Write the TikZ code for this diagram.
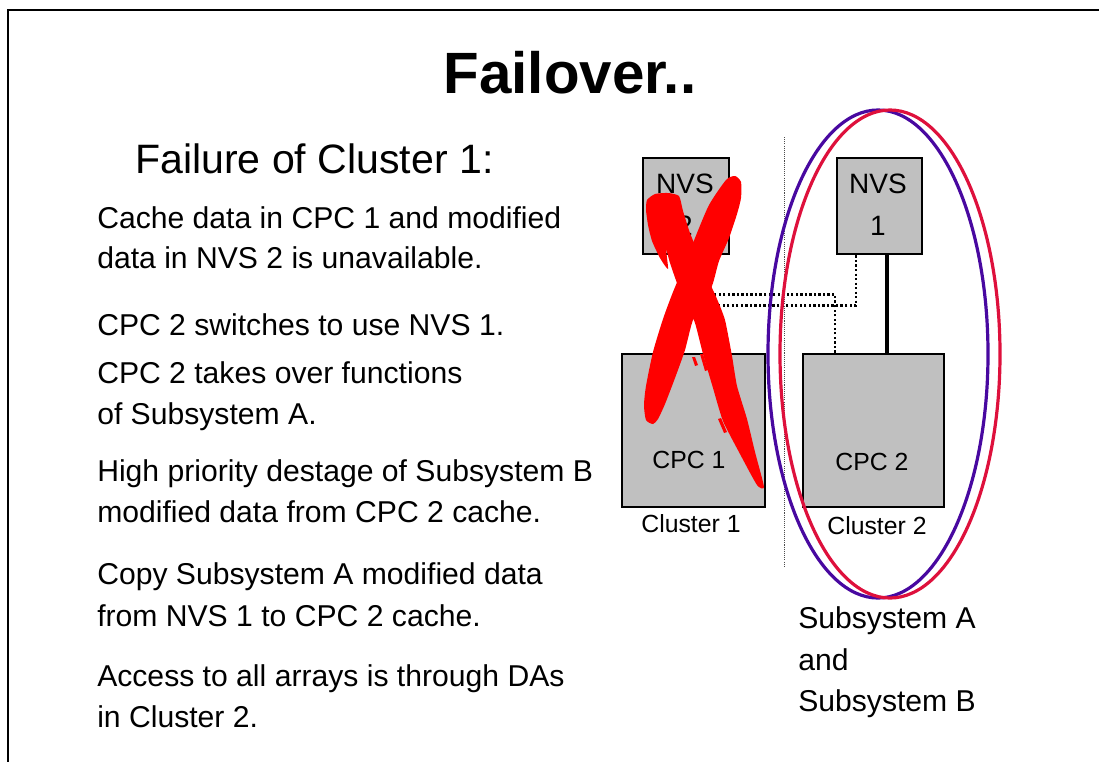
\documentclass[tikz,border=0pt]{standalone}
\usepackage{fontspec}
\setmainfont{Liberation Sans}
\usetikzlibrary{calc}

\definecolor{boxgray}{RGB}{192,192,192}
\definecolor{ringblue}{RGB}{72,8,160}
\definecolor{ringred}{RGB}{222,16,60}
\definecolor{crossred}{RGB}{255,0,0}

\tikzset{
  body/.style={inner sep=0pt, anchor=base west, font=\fontsize{22.6pt}{30pt}\selectfont},
  unitbox/.style={draw=black, line width=2.1pt, fill=boxgray, inner sep=0pt},
  boxlabel/.style={inner sep=0pt, font=\fontsize{18.6pt}{22pt}\selectfont},
  nvslabel/.style={inner sep=0pt, align=center, font=\fontsize{21pt}{31.5pt}\selectfont},
  dotlink/.style={line width=2pt, dash pattern=on 1.7pt off 1.7pt},
  solidlink/.style={line width=2.6pt},
  ring/.style={line width=2.4pt},
  divider/.style={line width=0.5pt, draw=black!70, dash pattern=on 0.8pt off 0.8pt},
}

\begin{document}
\begin{tikzpicture}[x=0.75pt, y=-0.75pt]
\useasboundingbox (0,0) rectangle (1099,761);

% slide frame
\draw[line width=1.1pt] (8,775) -- (8,10) -- (1115,10);

% title and heading
\node[inner sep=0pt, anchor=base, font=\fontsize{43.7pt}{50pt}\selectfont\bfseries] (title) at (570,93) {Failover..};
\node[inner sep=0pt, anchor=base west, font=\fontsize{30.8pt}{36pt}\selectfont] (head) at (135,173) {Failure of Cluster 1:};

% explanatory text
\node[body] (t1a) at (97,228) {Cache data in CPC 1 and modified};
\node[body] (t1b) at (97,268) {data in NVS 2 is unavailable.};
\node[body] (t2)  at (97,335) {CPC 2 switches to use NVS 1.};
\node[body] (t3a) at (97,383) {CPC 2 takes over functions};
\node[body] (t3b) at (97,424) {of Subsystem A.};
\node[body] (t4a) at (97,481) {High priority destage of Subsystem B};
\node[body] (t4b) at (97,522) {modified data from CPC 2 cache.};
\node[body] (t5a) at (97,584) {Copy Subsystem A modified data};
\node[body] (t5b) at (97,626) {from NVS 1 to CPC 2 cache.};
\node[body] (t6a) at (97,686) {Access to all arrays is through DAs};
\node[body] (t6b) at (97,727) {in Cluster 2.};

% boundary between the clusters
\coordinate (divtop) at (784,137);
\coordinate (divbot) at (784,567);
\draw[divider] (divtop) -- (divbot);

% hardware boxes
\node[unitbox, minimum width=86*0.75pt, minimum height=96*0.75pt] (nvs2) at (686,206) {};
\node[unitbox, minimum width=85*0.75pt, minimum height=96*0.75pt] (nvs1) at (879.5,206) {};
\node[unitbox, minimum width=143*0.75pt, minimum height=153*0.75pt] (cpc1) at (693.5,430.5) {};
\node[unitbox, minimum width=141*0.75pt, minimum height=153*0.75pt] (cpc2) at (873.5,430.5) {};

\node[nvslabel] (nvs2t) at (685,205) {NVS\\2};
\node[nvslabel] (nvs1t) at (878,205) {NVS\\1};
\node[boxlabel] (cpc1t) at (689,460) {CPC 1};
\node[boxlabel] (cpc2t) at (872,462) {CPC 2};
\node[boxlabel] (cl1) at (691,524) {Cluster 1};
\node[boxlabel] (cl2) at (877,526) {Cluster 2};

% links between NVS and CPC units
\draw[solidlink] ($(nvs1.south)+(7.5,0)$) -- ($(cpc2.north)+(13.5,0)$);
\draw[dotlink] ($(cpc2.north)+(-38.5,0)$) |- ($(nvs2.south)+(15,39)$) -- ($(nvs2.south)+(15,0)$);
\draw[dotlink] ($(nvs1.south)+(-23.5,0)$) |- ($(cpc1.north)+(14,-47)$) -- ($(cpc1.north)+(14,0)$);

% rings round the surviving cluster
\draw[ring, ringblue] (878,354) ellipse [x radius=110, y radius=244];
\draw[ring, ringred] (890,354) ellipse [x radius=110, y radius=244];

% brushed cross over the failed cluster: stroke rising to the right
\fill[crossred] plot[smooth cycle, tension=0.4] coordinates {
  (735,176) (741,182) (741,198) (737,214) (729,238) (719,261) (713,283)
  (705,303) (693,320) (685,350) (675,378) (665,404) (658,419) (653,424)
  (646,420) (644,405) (646,386) (653,352) (663,319) (673,292) (686,261)
  (695,238) (709,205) (726,180)};
% stroke falling to the right, with a curled start
\fill[crossred] plot[smooth cycle, tension=0.35] coordinates {
  (647,200) (655,194) (668,193) (679,196) (683,211) (690,233) (699,255)
  (708,279) (717,299) (725,320) (732,356) (737,386) (747,419) (755,452)
  (764,487) (757,485) (740,454) (723,421) (713,388) (703,354) (695,323)
  (686,303) (677,283) (670,263) (666,249) (668,269) (660,258) (652,241)
  (648,225) (646,210)};
% paint splashes
\fill[crossred] (692,357) -- (695,357) -- (698,365) -- (695,366) -- cycle;
\fill[crossred] (700,354) -- (703,354) -- (708,370) -- (705,371) -- cycle;
\fill[crossred] (718,402) -- (721,401) -- (724,411) -- (721,412) -- cycle;
\fill[crossred] (718,419) -- (721,418) -- (727,432) -- (724,433) -- cycle;

% subsystem caption
\node[body] (sa) at (798,628) {Subsystem A};
\node[body] (sand) at (798,670) {and};
\node[body] (sb) at (798,711) {Subsystem B};
\end{tikzpicture}
\end{document}
